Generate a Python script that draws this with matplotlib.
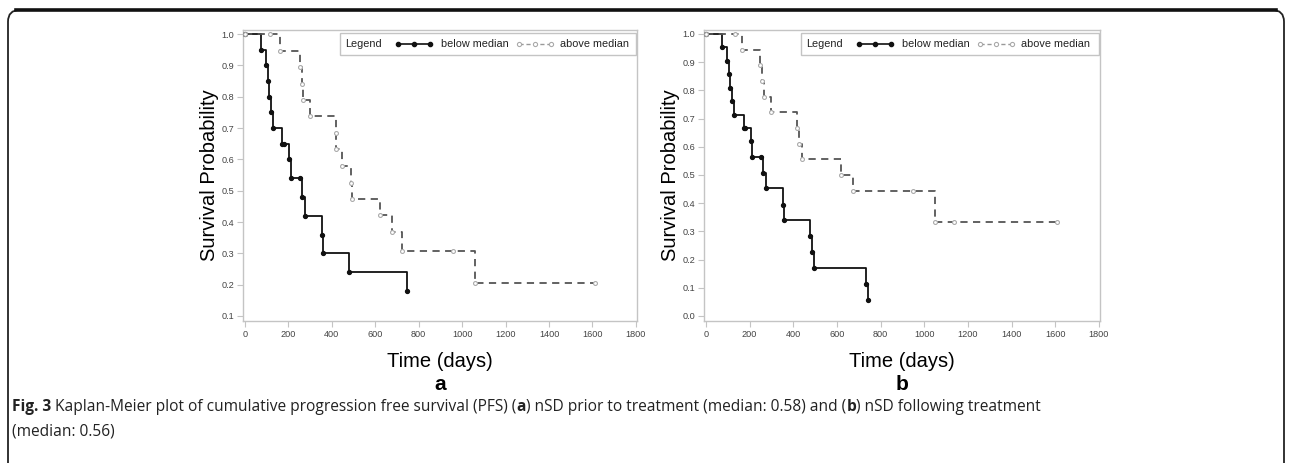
import matplotlib
matplotlib.use("Agg")
import matplotlib.pyplot as plt
from matplotlib.patches import FancyBboxPatch, Rectangle
from matplotlib.lines import Line2D

# ---------------- data ----------------
a_below_t = [0, 72, 98, 106, 112, 118, 129, 170, 180, 204, 210, 253, 261, 275, 355, 361, 481, 745]
a_below_s = [1.0, 0.95, 0.90, 0.85, 0.80, 0.75, 0.70, 0.65, 0.65, 0.60, 0.54, 0.54, 0.48, 0.42, 0.36, 0.30, 0.24, 0.18]

a_above_t = [0, 115, 161, 253, 261, 269, 300, 419, 421, 448, 490, 494, 624, 676, 725, 960, 1060, 1610]
a_above_s = [1.0, 1.0, 0.947, 0.895, 0.842, 0.789, 0.737, 0.684, 0.632, 0.579, 0.526, 0.474, 0.421, 0.368, 0.307, 0.307, 0.205, 0.205]

b_below_t = [0, 72, 97, 104, 111, 119, 129, 172, 181, 207, 211, 250, 263, 274, 355, 359, 478, 486, 493, 731, 744]
b_below_s = [1.0, 0.952, 0.905, 0.857, 0.810, 0.762, 0.714, 0.667, 0.667, 0.619, 0.565, 0.565, 0.508, 0.452, 0.395, 0.339, 0.282, 0.226, 0.169, 0.113, 0.056]

b_above_t = [0, 132, 163, 249, 257, 265, 300, 419, 425, 441, 620, 673, 947, 1050, 1137, 1607]
b_above_s = [1.0, 1.0, 0.944, 0.889, 0.833, 0.778, 0.722, 0.667, 0.611, 0.556, 0.500, 0.444, 0.444, 0.333, 0.333, 0.333]

x_ticks = [0, 200, 400, 600, 800, 1000, 1200, 1400, 1600, 1800]
a_y_ticks = [0.1, 0.2, 0.3, 0.4, 0.5, 0.6, 0.7, 0.8, 0.9, 1.0]
b_y_ticks = [0.0, 0.1, 0.2, 0.3, 0.4, 0.5, 0.6, 0.7, 0.8, 0.9, 1.0]

series_labels = ["below median", "above median"]
panel_letters = ["a", "b"]
caption_line1 = [("Fig. 3", True), (" Kaplan-Meier plot of cumulative progression free survival (PFS) (", False),
                 ("a", True), (") nSD prior to treatment (median: 0.58) and (", False), ("b", True),
                 (") nSD following treatment", False)]
caption_line2 = [("(median: 0.56)", False)]

# ---------------- figure ----------------
W, H = 1292, 463
fig = plt.figure(figsize=(W / 100, H / 100), dpi=100)
fig.patch.set_facecolor("white")
FONT = "Liberation Sans"
GRID = "#c4c4c4"
TICKC = "#444444"


def px_axes(x0, x1, ytop, ybot):
    return [x0 / W, (H - ybot) / H, (x1 - x0) / W, (ybot - ytop) / H]


def km_panel(rect, bt, bs, at, as_, yticks, ylim, letter):
    ax = fig.add_axes(rect)
    ax.step(bt, bs, where="post", color="#111111", lw=1.3, zorder=3)
    ax.plot(bt, bs, "o", color="#111111", ms=2.8, zorder=4)
    ax.step(at, as_, where="post", color="#555555", lw=1.3, ls=(0, (4, 3)), zorder=3)
    ax.plot(at, as_, "o", mfc="white", mec="#aaaaaa", mew=0.8, ms=2.8, zorder=4)
    ax.set_xlim(-9, 1805)
    ax.set_ylim(*ylim)
    ax.set_xticks(x_ticks)
    ax.set_xticklabels([str(v) for v in x_ticks], fontsize=6.6, color=TICKC, family=FONT)
    ax.set_yticks(yticks)
    ax.set_yticklabels([f"{v:.1f}" for v in yticks], fontsize=6.6, color=TICKC, family=FONT)
    ax.tick_params(axis="both", length=4.5, width=0.8, color=GRID, pad=2)
    for sp in ax.spines.values():
        sp.set_color(GRID)
        sp.set_linewidth(1.0)
    ax.set_ylabel("Survival Probability", fontsize=14.5, family=FONT, labelpad=1.5)
    ax.set_xlabel("Time (days)", fontsize=14.5, family=FONT, labelpad=9)
    # legend drawn as an inset box in axes coordinates
    x0p, x1p = rect[0] * W, (rect[0] + rect[2]) * W
    def fx(p):
        return (p - x0p) / (x1p - x0p)
    axh = rect[3] * H
    ytop = 1 - 3 / axh
    ybot = 1 - 25 / axh
    ymid = (ytop + ybot) / 2
    lg_left = fx(x0p + 97)
    ax.add_patch(Rectangle((lg_left, ybot), 1 - 1.5 / (x1p - x0p) - lg_left, ytop - ybot,
                           transform=ax.transAxes, fc="white", ec=GRID, lw=1.0, zorder=5))
    ax.text(fx(x0p + 102), ymid, "Legend", transform=ax.transAxes, fontsize=7.8, family=FONT,
            va="center", ha="left", color="#222222", zorder=6)
    xs = [fx(x0p + 155), fx(x0p + 171), fx(x0p + 187)]
    ax.plot(xs, [ymid] * 3, "-o", color="#111111", lw=1.2, ms=3.0, transform=ax.transAxes,
            zorder=6, clip_on=False)
    ax.text(fx(x0p + 198), ymid, series_labels[0], transform=ax.transAxes, fontsize=7.8,
            family=FONT, va="center", ha="left", color="#222222", zorder=6)
    xs2 = [fx(x0p + 276), fx(x0p + 292), fx(x0p + 308)]
    ax.plot(xs2, [ymid] * 3, color="#999999", lw=1.0, ls=(0, (3, 2)), transform=ax.transAxes,
            zorder=6, clip_on=False)
    ax.plot(xs2, [ymid] * 3, "o", mfc="white", mec="#aaaaaa", mew=0.8, ms=3.0,
            transform=ax.transAxes, zorder=7, clip_on=False)
    ax.text(fx(x0p + 317), ymid, series_labels[1], transform=ax.transAxes, fontsize=7.8,
            family=FONT, va="center", ha="left", color="#222222", zorder=6)
    cx = rect[0] + rect[2] / 2
    fig.text(cx, (H - 385) / H, letter, fontsize=15, fontweight="bold", family=FONT,
             ha="center", va="center")
    return ax


km_panel(px_axes(243, 637, 30, 321), a_below_t, a_below_s, a_above_t, a_above_s,
         a_y_ticks, (0.084, 1.013), panel_letters[0])
km_panel(px_axes(704, 1100, 30, 321), b_below_t, b_below_s, b_above_t, b_above_s,
         b_y_ticks, (-0.018, 1.014), panel_letters[1])

# frame around the figure
frame = FancyBboxPatch((8 / W, -0.2), (1284 - 8) / W, (H - 10) / H + 0.2,
                       boxstyle="round,pad=0,rounding_size=0.009",
                       transform=fig.transFigure, fc="none", ec="#222222", lw=1.3,
                       mutation_aspect=W / H)
fig.patches.append(frame)
fig.add_artist(Line2D([16 / W, 1276 / W], [(H - 10) / H] * 2, color="#111111", lw=2.6))

# caption with mixed bold text
fig.canvas.draw()
renderer = fig.canvas.get_renderer()


def draw_line(parts, x_px, y_px):
    x = x_px
    for s, bold in parts:
        t = fig.text(x / W, (H - y_px) / H, s, fontsize=11.2, family="Open Sans",
                     fontweight="bold" if bold else "normal", ha="left", va="center",
                     color="#222222")
        bb = t.get_window_extent(renderer=renderer)
        x += bb.width


draw_line(caption_line1, 12, 407)
draw_line(caption_line2, 12, 432)

fig.savefig("out.png", dpi=100, facecolor="white")
